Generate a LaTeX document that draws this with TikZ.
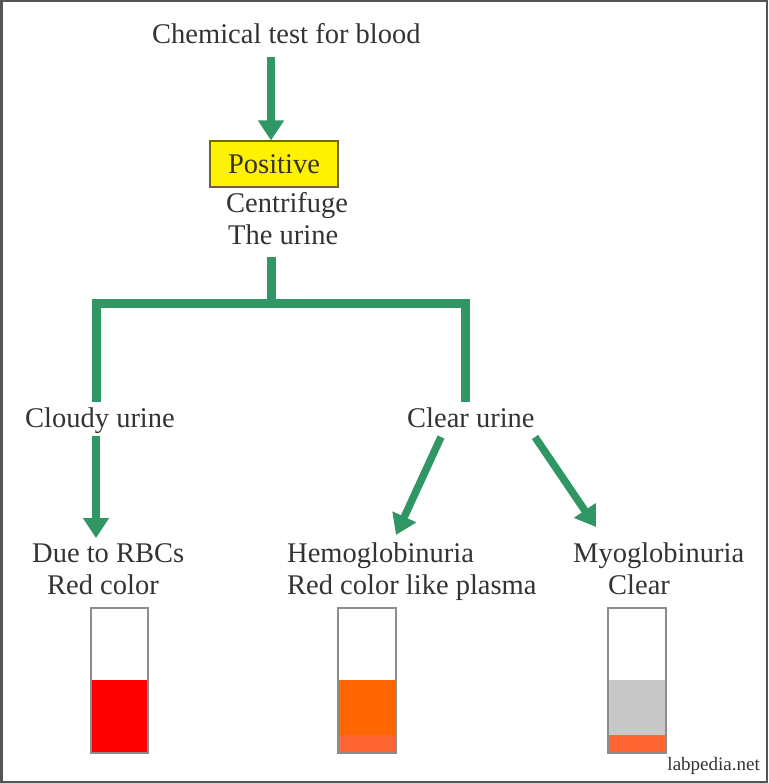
\documentclass[tikz,border=0pt]{standalone}
\usepackage{fontspec}
\setmainfont{Liberation Serif}
\usetikzlibrary{arrows.meta}
\definecolor{grn}{RGB}{48,150,100}
\definecolor{txt}{RGB}{51,51,51}
\definecolor{frame}{RGB}{85,85,85}
\definecolor{tubeline}{RGB}{140,140,140}
\definecolor{bloodred}{RGB}{255,0,0}
\definecolor{plasmaor}{RGB}{255,102,0}
\definecolor{sediment}{RGB}{255,102,51}
\definecolor{cleargray}{RGB}{200,200,200}
\definecolor{boxline}{RGB}{110,100,40}
\begin{document}
\begin{tikzpicture}[x=1pt,y=-1pt,
  lbl/.style={font=\fontsize{28.5}{32}\selectfont, text=txt, inner sep=0pt, anchor=base west},
  arr/.style={draw=grn, line width=7.5pt, -{Triangle[width=25pt,length=20pt]}},
  bar/.style={draw=grn, line width=9pt, line join=miter},
  posbox/.style={draw=boxline, fill=yellow, line width=1.2pt, minimum width=128pt, minimum height=46pt, inner sep=0pt, text=txt, font=\fontsize{28.5}{32}\selectfont},
  tube/.style={draw=tubeline, line width=1.2pt},
  wm/.style={font=\fontsize{19}{22}\selectfont, text=txt, inner sep=0pt, anchor=base east}
]
\useasboundingbox (0,0) rectangle (768,783);
\draw[frame, line width=2.5pt] (1.25,1.25) rectangle (766.75,781.75);

% texts
\node[lbl] (title) at (152,44) {Chemical test for blood};
\node[posbox] (pos) at (274,164) {Positive};
\node[lbl] (cent1) at (226,213) {Centrifuge};
\node[lbl] (cent2) at (228,245) {The urine};
\node[lbl] (cloudy) at (25,427) {Cloudy urine};
\node[lbl] (clear) at (407,427) {Clear urine};
\node[lbl] (due) at (32,562) {Due to RBCs};
\node[lbl] (red) at (47,594) {Red color};
\node[lbl] (hemo) at (287,562) {Hemoglobinuria};
\node[lbl] (hemo2) at (287,594) {Red color like plasma};
\node[lbl] (myo) at (573,562) {Myoglobinuria};
\node[lbl] (myo2) at (608,594) {Clear};
\node[wm] (wmark) at (760,770) {labpedia.net};

% connectors
\coordinate (a1) at (271,57);
\draw[arr] (a1) -- (a1 |- pos.north);

\coordinate (s0) at (271,257);
\coordinate (sj) at (271,303);
\coordinate (bl) at (96,303);
\coordinate (br) at (465,303);
\coordinate (blE) at (96,402);
\coordinate (brE) at (465,402);
\draw[bar] (blE) -- (bl) -- (br) -- (brE);
\draw[bar] (s0) -- (sj);

\coordinate (c0) at (96,436);
\coordinate (c1) at (96,538);
\draw[arr] (c0) -- (c1);
\coordinate (h0) at (441,437);
\coordinate (h1) at (396,535);
\draw[arr] (h0) -- (h1);
\coordinate (m0) at (535,437);
\coordinate (m1) at (596,527);
\draw[arr] (m0) -- (m1);

% tubes
\fill[bloodred] (91,680) rectangle (148,753);
\draw[tube] (91,608) rectangle (148,753);

\fill[plasmaor] (338,680) rectangle (396,735);
\fill[sediment] (338,735) rectangle (396,753);
\draw[tube] (338,608) rectangle (396,753);

\fill[cleargray] (608,680) rectangle (666,735);
\fill[sediment] (608,735) rectangle (666,753);
\draw[tube] (608,608) rectangle (666,753);
\end{tikzpicture}
\end{document}
